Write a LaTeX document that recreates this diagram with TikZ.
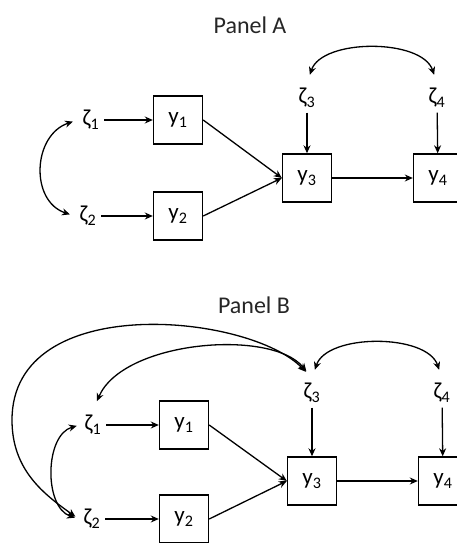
\documentclass[tikz,border=0pt]{standalone}
\usepackage{fontspec}
\setmainfont{Carlito}
\usetikzlibrary{arrows.meta}

\tikzset{
  var/.style={draw, line width=1.4pt, minimum width=49pt, minimum height=48pt, inner sep=0pt, font=\fontsize{23}{26}\selectfont},
  err/.style={inner sep=3pt, outer sep=2pt, font=\fontsize{23}{26}\selectfont},
  title/.style={font=\fontsize{24}{28}\selectfont, text=black!85},
  cov/.style={{Stealth[length=8pt,width=7pt]}-{Stealth[length=8pt,width=7pt]}, line width=1.3pt}
}

\begin{document}
\begin{tikzpicture}[x=1pt, y=-1pt, >={Stealth[length=8pt,width=7pt]}, line width=1.3pt]

\useasboundingbox (0,0) rectangle (456,543);

% Panel A
\node[title] (titleA) at (250,25) {Panel A};

\node[err] (zA1) at (91,120) {ζ\textsubscript{1}};
\node[err] (zA2) at (88,216) {ζ\textsubscript{2}};
\node[err] (zA3) at (307,98) {ζ\textsubscript{3}};
\node[err] (zA4) at (437,98) {ζ\textsubscript{4}};

\node[var] (yA1) at (178,120) {y\textsubscript{1}};
\node[var] (yA2) at (178,216) {y\textsubscript{2}};
\node[var] (yA3) at (307,178) {y\textsubscript{3}};
\node[var] (yA4) at (438,178) {y\textsubscript{4}};

\foreach \a/\b in {zA1/yA1, zA2/yA2, yA1.east/yA3.west, yA2.east/yA3.west, zA3/yA3, zA4/yA4, yA3/yA4} {
    \draw[->] (\a) -- (\b);
}

\draw[cov, shorten <=9pt, shorten >=9pt] (zA3.north) .. controls +(15,-45) and +(-15,-45) .. (zA4.north);
\draw[cov, shorten <=5pt, shorten >=5pt] (zA1.west) .. controls +(-45,15) and +(-45,-15) .. (zA2.west);

% Panel B
\node[title] (titleB) at (254,305) {Panel B};

\node[err] (zB1) at (93,425) {ζ\textsubscript{1}};
\node[err] (zB2) at (92,519) {ζ\textsubscript{2}};
\node[err] (zB3) at (312,393) {ζ\textsubscript{3}};
\node[err] (zB4) at (442,393) {ζ\textsubscript{4}};

\node[var] (yB1) at (184,425) {y\textsubscript{1}};
\node[var] (yB2) at (184,519) {y\textsubscript{2}};
\node[var] (yB3) at (312,481) {y\textsubscript{3}};
\node[var] (yB4) at (443,481) {y\textsubscript{4}};

\foreach \a/\b in {zB1/yB1, zB2/yB2, yB1.east/yB3.west, yB2.east/yB3.west, zB3/yB3, zB4/yB4, yB3/yB4} {
    \draw[->] (\a) -- (\b);
}

\draw[cov, shorten <=9pt, shorten >=9pt] (zB3.north) .. controls +(15,-45) and +(-15,-45) .. (zB4.north);
\draw[cov, shorten <=9pt, shorten >=10pt] (zB3.north) .. controls +(-40,-50) and +(30,-70) .. (zB1.north);
\draw[cov, shorten <=9pt, shorten >=4pt] (zB3.north) .. controls +(-62,-65) and (12,290) .. (12,420) .. controls (12,470) and +(-35,-25) .. (zB2.west);
\draw[cov, shorten <=3pt, shorten >=4pt] (zB1.west) .. controls +(-35,10) and +(-35,-12) .. (zB2.west);

\end{tikzpicture}
\end{document}
